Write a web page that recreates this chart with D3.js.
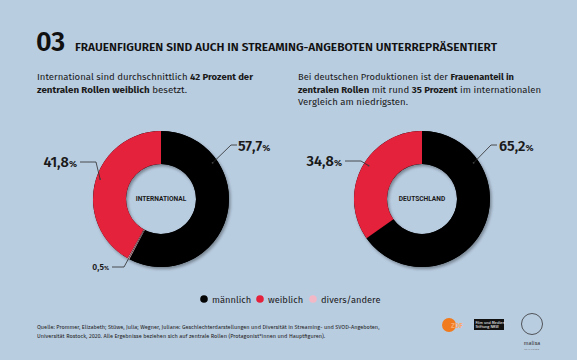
<!DOCTYPE html>
<html><head><meta charset="utf-8">
<script src="https://cdn.jsdelivr.net/npm/d3@7"></script>
<style>
html,body{margin:0;padding:0;background:#b9cde1;}
svg{display:block;font-family:"Fira Sans","Noto Sans","Open Sans",sans-serif;}
</style></head><body>
<svg id="c" width="577" height="360"></svg>
<script>
// ---- data ----
const categories = ["männlich", "weiblich", "divers/andere"];
const colors = ["#050505", "#e4203a", "#f3b8c6"];
const charts = ["INTERNATIONAL", "DEUTSCHLAND"];
const valuesInternational = [57.7, 41.8, 0.5];
const valuesDeutschland = [65.2, 34.8, 0];
const labelsInternational = ["57,7", "41,8", "0,5"];
const labelsDeutschland = ["65,2", "34,8", ""];
// clockwise drawing order of the slices: männlich, divers/andere, weiblich
const sliceOrder = [0, 2, 1];

const svg = d3.select("#c");
const W = 577, H = 360;
svg.append("rect").attr("width", W).attr("height", H).attr("fill", "#b9cde1");

const defs = svg.append("defs");
const f = defs.append("filter").attr("id", "sh").attr("x", "-20%").attr("y", "-20%").attr("width", "140%").attr("height", "140%");
f.append("feDropShadow").attr("dx", 1.5).attr("dy", 2).attr("stdDeviation", 1.8).attr("flood-color", "#000").attr("flood-opacity", 0.35);

// ---- header ----
svg.append("text").attr("x", 36).attr("y", 51).attr("font-size", 27).attr("font-weight", 600).attr("fill", "#111").text("03");
svg.append("text").attr("x", 75).attr("y", 51).attr("font-size", 11.2).attr("font-weight", 600).attr("fill", "#111")
  .attr("textLength", 422).attr("lengthAdjust", "spacingAndGlyphs")
  .text("FRAUENFIGUREN SIND AUCH IN STREAMING-ANGEBOTEN UNTERREPRÄSENTIERT");

function richLines(x, y0, lh, lines, widths) {
  lines.forEach((parts, i) => {
    const t = svg.append("text").attr("x", x).attr("y", y0 + i * lh).attr("font-size", 9.6).attr("fill", "#1a1a1a");
    parts.forEach(p => t.append("tspan").attr("font-weight", p[1] ? 700 : 400).text(p[0]));
    if (widths[i]) t.attr("textLength", widths[i]).attr("lengthAdjust", "spacingAndGlyphs");
  });
}
richLines(37, 80, 12.5, [
  [["International sind durchschnittlich ", 0], ["42 Prozent der", 1]],
  [["zentralen Rollen weiblich", 1], [" besetzt.", 0]]
], [216, 150]);
richLines(298, 80, 12.5, [
  [["Bei deutschen Produktionen ist der ", 0], ["Frauenanteil in", 1]],
  [["zentralen Rollen", 1], [" mit rund ", 0], ["35 Prozent", 1], [" im internationalen", 0]],
  [["Vergleich am niedrigsten.", 0]]
], [216, 243, 110]);

// ---- donuts ----
const rOuter = 68, rInner = 35;
const arc = d3.arc().innerRadius(rInner).outerRadius(rOuter);

const layouts = [
  { cx: 161, cy: 199, labels: [
      { ang: 55, r: 63, ex: 231, ey: 145, lx: 238, ly: 151, big: true },
      { ang: 288, r: 64, ex: 96, ey: 162, lx: 77, ly: 167, big: true, anchor: "end", hx: 80 },
      { ang: 208.5, r: 37, ex: 124, ey: 267, lx: 111, ly: 270, big: false, anchor: "end", hx: 112 }
  ]},
  { cx: 422, cy: 199, labels: [
      { ang: 55, r: 63, ex: 491, ey: 145, lx: 499, ly: 151, big: true },
      { ang: 302, r: 63, ex: 361, ey: 161, lx: 342, ly: 166, big: true, anchor: "end", hx: 345 },
      null
  ]}
];
const seriesVals = [valuesInternational, valuesDeutschland];
const seriesLabels = [labelsInternational, labelsDeutschland];

charts.forEach((name, ci) => {
  const L = layouts[ci];
  const vals = seriesVals[ci];
  const pie = d3.pie().sort(null).value(k => vals[k]);
  const g = svg.append("g").attr("transform", `translate(${L.cx},${L.cy})`);
  const arcs = pie(sliceOrder);
  const gg = g.append("g").attr("filter", "url(#sh)");
  // base ring in the dominant colour to avoid anti-alias seams
  gg.append("path").attr("d", d3.arc().innerRadius(rInner).outerRadius(rOuter).startAngle(0).endAngle(2 * Math.PI)())
    .attr("fill", colors[0]);
  gg.selectAll("path.s").data(arcs.filter(d => d.value > 0)).join("path").attr("class", "s")
    .attr("d", arc).attr("fill", d => colors[d.data]);
  g.append("text").attr("text-anchor", "middle").attr("dy", "0.35em").attr("font-size", 6.6)
    .attr("font-weight", 700).attr("fill", "#1a1a1a").attr("font-family", "Roboto, sans-serif").text(name);

  seriesLabels[ci].forEach((lab, i) => {
    const lo = L.labels[i];
    if (!lab || !lo) return;
    const a = lo.ang * Math.PI / 180;
    const px = L.cx + lo.r * Math.sin(a), py = L.cy - lo.r * Math.cos(a);
    const hx = lo.anchor === "end" ? lo.hx : lo.ex + 6;
    svg.append("polyline").attr("points", `${px},${py} ${lo.ex},${lo.ey} ${hx},${lo.ey}`)
      .attr("fill", "none").attr("stroke", "#2a2a2a").attr("stroke-width", 0.8);
    svg.append("circle").attr("cx", px).attr("cy", py).attr("r", 0.9).attr("fill", "#444");
    const t = svg.append("text").attr("x", lo.anchor === "end" ? lo.hx - 3 : lo.lx).attr("y", lo.ly)
      .attr("text-anchor", lo.anchor || "start").attr("fill", "#1a1a1a").attr("font-weight", 600);
    t.append("tspan").attr("font-size", lo.big ? 14.5 : 8.5).text(lab);
    t.append("tspan").attr("font-size", lo.big ? 9.5 : 6).text("%");
  });
});

// ---- legend ----
const legX = [204, 260, 313];
const leg = svg.append("g");
categories.forEach((c, i) => {
  leg.append("circle").attr("cx", legX[i]).attr("cy", 299).attr("r", 3.8).attr("fill", colors[i]);
  leg.append("text").attr("x", legX[i] + 8).attr("y", 302.5).attr("font-size", 9.3).attr("fill", "#1a1a1a").text(c);
});

// ---- source ----
const src = [
  "Quelle: Prommer, Elizabeth; Stüwe, Julia; Wegner, Juliane: Geschlechterdarstellungen und Diversität in Streaming- und SVOD-Angeboten,",
  "Universität Rostock, 2020. Alle Ergebnisse beziehen sich auf zentrale Rollen (Protagonist*innen und Hauptfiguren)."
];
src.forEach((s, i) => svg.append("text").attr("x", 37).attr("y", 329 + i * 8.5).attr("font-size", 5.6)
  .attr("fill", "#222").text(s));

// ---- logos ----
const lg = svg.append("g");
lg.append("circle").attr("cx", 449).attr("cy", 325).attr("r", 7).attr("fill", "#f07a1c");
lg.append("text").attr("x", 451).attr("y", 327.5).attr("font-size", 7).attr("font-weight", 700).attr("fill", "#f8a96a").text("ZDF");
lg.append("rect").attr("x", 474).attr("y", 319).attr("width", 30).attr("height", 11).attr("fill", "#111");
lg.append("text").attr("x", 475.5).attr("y", 323.7).attr("font-size", 3.9).attr("fill", "#fff").text("Film und Medien");
lg.append("text").attr("x", 475.5).attr("y", 328.2).attr("font-size", 3.9).attr("fill", "#fff").text("Stiftung NRW");
lg.append("circle").attr("cx", 532).attr("cy", 324).attr("r", 10.5).attr("fill", "none").attr("stroke", "#333").attr("stroke-width", 0.8);
lg.append("text").attr("x", 532).attr("y", 345).attr("text-anchor", "middle").attr("font-size", 5.5).attr("fill", "#333").text("malisa");
lg.append("text").attr("x", 532).attr("y", 350).attr("text-anchor", "middle").attr("font-size", 2.5).attr("letter-spacing", 0.6).attr("fill", "#666").text("STIFTUNG");
</script></body></html>
